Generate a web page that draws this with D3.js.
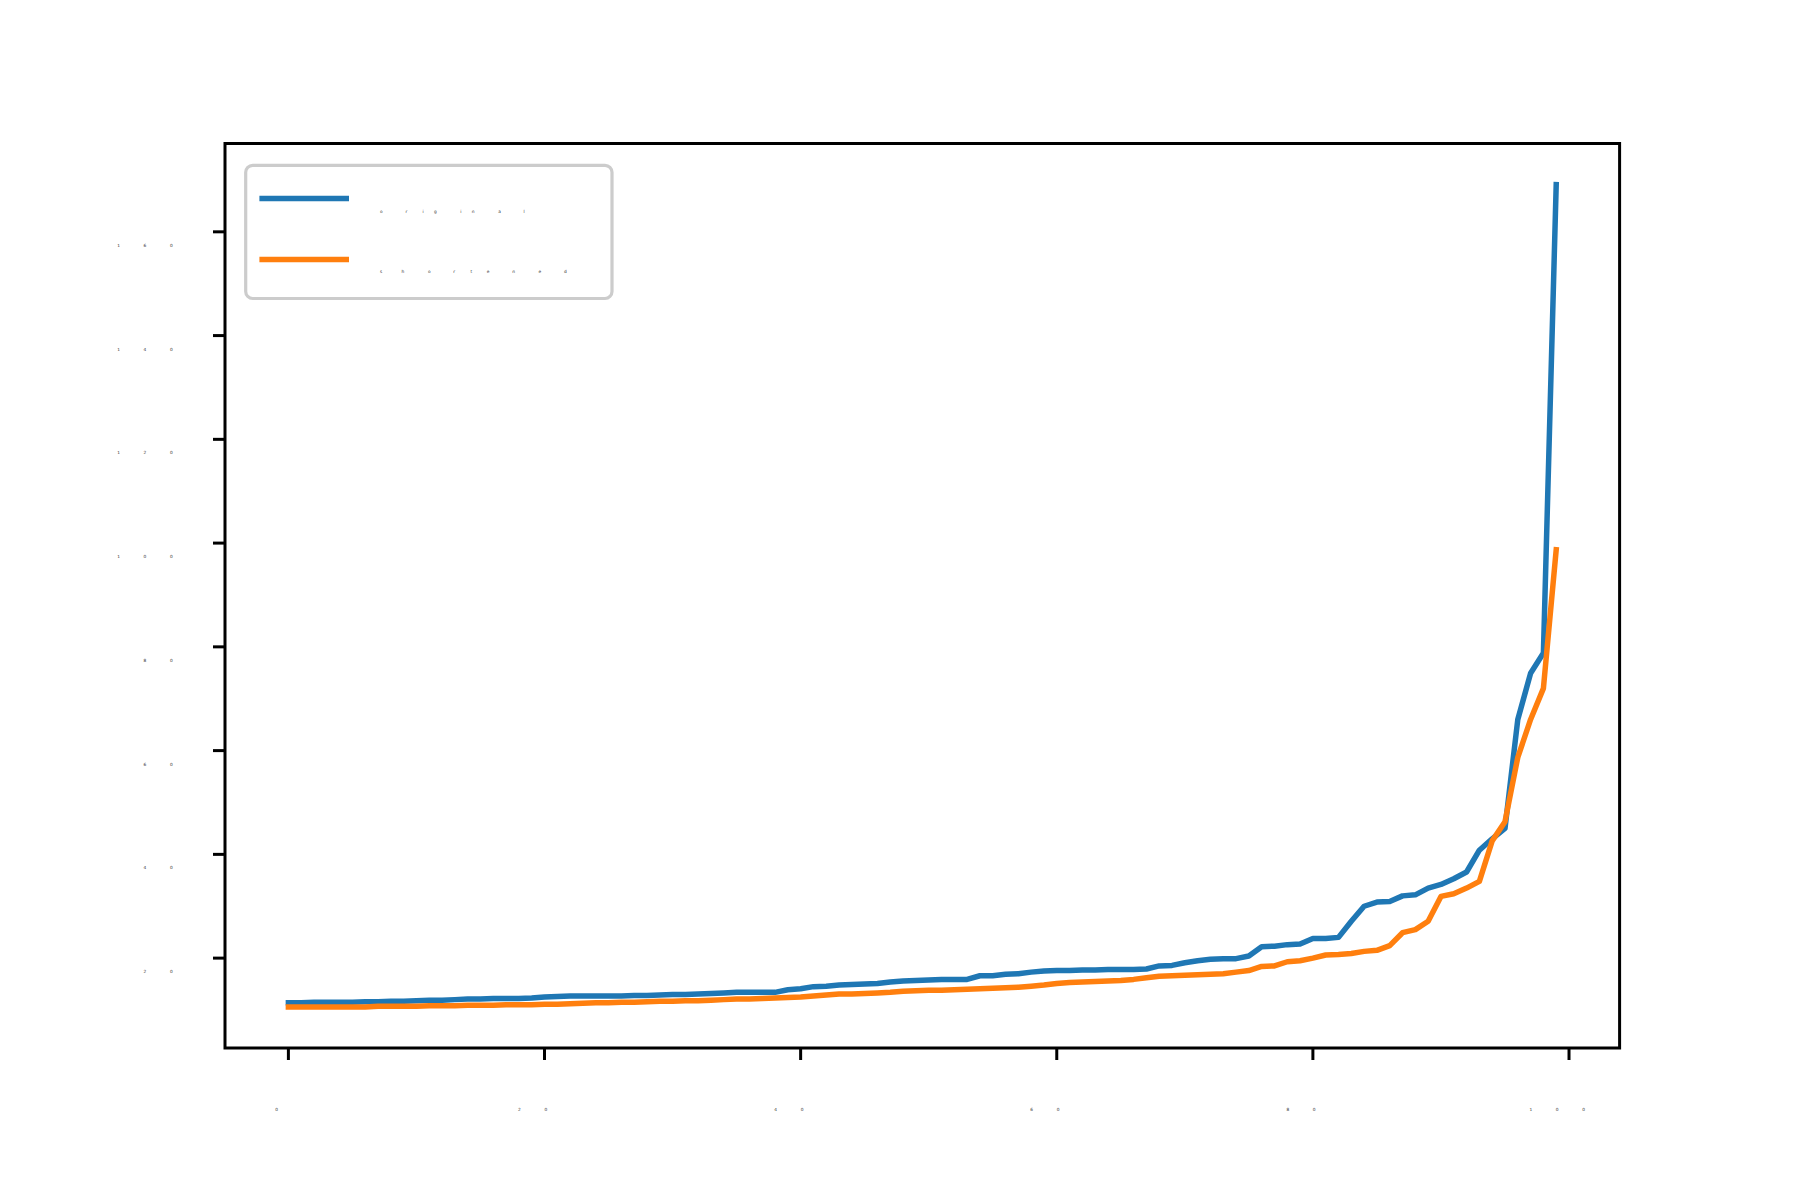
<!DOCTYPE html>
<html>
<head>
<meta charset="utf-8">
<script src="https://cdn.jsdelivr.net/npm/d3@7"></script>
<style>
  body { margin: 0; background: #fff; }
  svg { display: block; }
</style>
</head>
<body>
<svg width="1800" height="1200"></svg>
<script>

let seriesNames = ['original', 'shortened'];

let original = [
    11.4, 11.4, 11.5, 11.5, 11.5, 11.5, 11.6, 11.6, 11.7, 11.7,
    11.8, 11.9, 11.9, 12.0, 12.1, 12.1, 12.2, 12.2, 12.2, 12.3,
    12.5, 12.6, 12.7, 12.7, 12.7, 12.7, 12.7, 12.8, 12.8, 12.9,
    13.0, 13.0, 13.1, 13.2, 13.3, 13.4, 13.4, 13.4, 13.4, 13.9,
    14.1, 14.5, 14.6, 14.8, 14.9, 15.0, 15.1, 15.4, 15.6, 15.7,
    15.8, 15.9, 15.9, 15.9, 16.6, 16.6, 16.9, 17.0, 17.3, 17.5,
    17.6, 17.6, 17.7, 17.7, 17.8, 17.8, 17.8, 17.9, 18.5, 18.6,
    19.1, 19.5, 19.8, 19.9, 19.9, 20.4, 22.2, 22.3, 22.6, 22.7,
    23.8, 23.8, 24.0, 27.1, 30.0, 30.8, 30.9, 32.0, 32.2, 33.5,
    34.2, 35.3, 36.6, 40.8, 43.0, 45.0, 66.0, 74.9, 78.8, 169.1
];

let shortened = [
    10.6, 10.6, 10.6, 10.6, 10.6, 10.6, 10.6, 10.7, 10.7, 10.7,
    10.7, 10.8, 10.8, 10.8, 10.9, 10.9, 10.9, 11.0, 11.0, 11.0,
    11.1, 11.1, 11.2, 11.3, 11.4, 11.4, 11.5, 11.5, 11.6, 11.7,
    11.7, 11.8, 11.8, 11.9, 12.0, 12.1, 12.1, 12.2, 12.3, 12.4,
    12.5, 12.7, 12.9, 13.1, 13.1, 13.2, 13.3, 13.4, 13.6, 13.7,
    13.8, 13.8, 13.9, 14.0, 14.1, 14.2, 14.3, 14.4, 14.6, 14.8,
    15.1, 15.3, 15.4, 15.5, 15.6, 15.7, 15.9, 16.2, 16.5, 16.6,
    16.7, 16.8, 16.9, 17.0, 17.3, 17.6, 18.4, 18.5, 19.3, 19.5,
    20.0, 20.6, 20.7, 20.9, 21.3, 21.5, 22.4, 24.9, 25.5, 27.1,
    31.9, 32.4, 33.5, 34.8, 42.6, 46.3, 58.7, 66.0, 72.0, 98.7
];

let xTicks = [0, 20, 40, 60, 80, 100];
let yTicks = [20, 40, 60, 80, 100, 120, 140, 160];
let colors = ['#1f77b4', '#ff7f0e'];

let svg = d3.select('svg');
let box = { left: 225, right: 1619.6, top: 143.5, bottom: 1048 };

// matplotlib style 5% autoscale margins
let pad = (lo, hi) => [lo - (hi - lo) * 0.05, hi + (hi - lo) * 0.05];

let xDomain = pad(0, original.length - 1);
let yAll = original.concat(shortened);
let yDomain = pad(d3.min(yAll), d3.max(yAll));

let x = d3.scaleLinear().domain(xDomain).range([box.left, box.right]);
let y = d3.scaleLinear().domain(yDomain).range([box.bottom, box.top]);

// the labels are laid out as for a big font but the glyphs come out tiny
let measure = svg.append('text')
    .attr('font-family', 'DejaVu Sans')
    .attr('font-size', 41.5)
    .attr('x', 0).attr('y', -100);

function tinyText(g, str, xPos, yPos, anchor) {
    measure.text(str);
    let w = measure.node().getComputedTextLength();
    let start = anchor === 'middle' ? xPos - w / 2 : anchor === 'end' ? xPos - w : xPos;
    for (let i = 0; i < str.length; i++) {
        let px = measure.node().getStartPositionOfChar(i).x;
        g.append('text')
            .attr('x', start + px)
            .attr('y', yPos)
            .attr('font-family', 'DejaVu Sans')
            .attr('font-size', 4.3)
            .attr('fill', '#333')
            .text(str[i]);
    }
}

// lines
let line = d3.line()
    .x((d, i) => x(i))
    .y(d => y(d));

[original, shortened].forEach((s, k) => {
    svg.append('path')
        .datum(s)
        .attr('d', line)
        .attr('fill', 'none')
        .attr('stroke', colors[k])
        .attr('stroke-width', 5.5)
        .attr('stroke-linejoin', 'round')
        .attr('stroke-linecap', 'square');
});

// frame
svg.append('rect')
    .attr('x', box.left).attr('y', box.top)
    .attr('width', box.right - box.left)
    .attr('height', box.bottom - box.top)
    .attr('fill', 'none')
    .attr('stroke', '#000')
    .attr('stroke-width', 3);

// x ticks
let xg = svg.append('g');
xTicks.forEach(t => {
    xg.append('line')
        .attr('x1', x(t)).attr('x2', x(t))
        .attr('y1', box.bottom).attr('y2', box.bottom + 12)
        .attr('stroke', '#000').attr('stroke-width', 3);
    tinyText(xg, String(t), x(t), 1110.5, 'middle');
});

// y ticks
let yg = svg.append('g');
yTicks.forEach(t => {
    yg.append('line')
        .attr('x1', box.left - 12).attr('x2', box.left)
        .attr('y1', y(t)).attr('y2', y(t))
        .attr('stroke', '#000').attr('stroke-width', 3);
    tinyText(yg, String(t), 196.4, y(t) + 15, 'end');
});

// legend
let lg = svg.append('g');
lg.append('rect')
    .attr('x', 245.7).attr('y', 165.3)
    .attr('width', 366.3).attr('height', 133.2)
    .attr('rx', 7).attr('ry', 7)
    .attr('fill', '#fff').attr('fill-opacity', 0.8)
    .attr('stroke', '#cccccc').attr('stroke-width', 3.2);

seriesNames.forEach((name, k) => {
    let ly = 198.6 + k * 60.8;
    lg.append('line')
        .attr('x1', 259.4).attr('x2', 349)
        .attr('y1', ly).attr('y2', ly)
        .attr('stroke', colors[k]).attr('stroke-width', 5.5);
    tinyText(lg, name, 380, ly + 14, 'start');
});

measure.remove();

</script>
</body>
</html>
